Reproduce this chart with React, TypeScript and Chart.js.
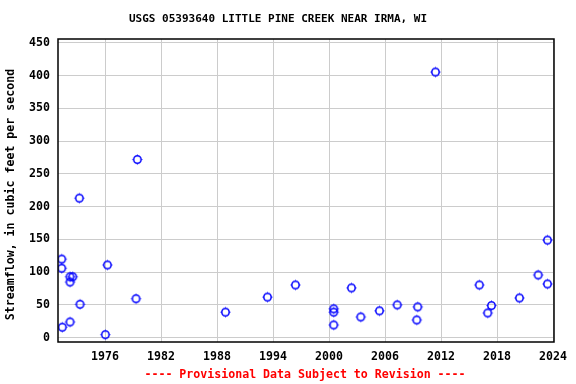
import React, { useEffect, useRef } from "react";
import { Chart, registerables } from "chart.js";

Chart.register(...registerables);

const years: number[] = [
  1971.36, 1971.36, 1971.42, 1972.25, 1972.54, 1972.25, 1972.25, 1973.25, 1973.32,
  1976.03, 1976.25, 1979.46, 1979.32, 1988.9, 1993.4, 1996.4, 2000.5, 2000.5, 2000.5,
  2002.4, 2003.4, 2005.4, 2007.3, 2009.5, 2009.4, 2011.4, 2016.1, 2017.0, 2017.4,
  2020.4, 2022.4, 2023.4, 2023.4,
];
const flows: number[] = [
  120, 106, 16, 93, 93, 85, 24, 213, 51,
  4.6, 111, 272, 59.5, 39, 62, 80.5, 44, 39, 19.4,
  76, 31.6, 41, 50, 47, 27, 405.6, 80.5, 37.7, 49,
  60.6, 95.7, 149, 82,
];
const xTicks: number[] = [1976, 1982, 1988, 1994, 2000, 2006, 2012, 2018, 2024];
const yTicks: number[] = [0, 50, 100, 150, 200, 250, 300, 350, 400, 450];

const titleText = "USGS 05393640 LITTLE PINE CREEK NEAR IRMA, WI";
const footerText = "---- Provisional Data Subject to Revision ----";
const yTitle = "Streamflow, in cubic feet per second";
const FONT = "'DejaVu Sans Mono', monospace";

function makeMarker(): HTMLCanvasElement {
  const c = document.createElement("canvas");
  c.width = 13;
  c.height = 13;
  const g = c.getContext("2d")!;
  g.strokeStyle = "#0000ff";
  g.lineWidth = 1.5;
  g.beginPath();
  g.arc(6.5, 6.5, 3.7, 0, Math.PI * 2);
  g.stroke();
  g.lineWidth = 1;
  g.beginPath();
  g.moveTo(6.5, 1.5); g.lineTo(6.5, 2.5);
  g.moveTo(6.5, 10.5); g.lineTo(6.5, 11.5);
  g.moveTo(1.5, 6.5); g.lineTo(2.5, 6.5);
  g.moveTo(10.5, 6.5); g.lineTo(11.5, 6.5);
  g.stroke();
  return c;
}

const decor = {
  id: "decor",
  afterDraw(chart: any) {
    const { ctx, chartArea } = chart;
    ctx.save();
    ctx.strokeStyle = "#000";
    ctx.lineWidth = 1.5;
    ctx.strokeRect(chartArea.left, chartArea.top, chartArea.right - chartArea.left, chartArea.bottom - chartArea.top);
    ctx.textAlign = "center";
    ctx.textBaseline = "middle";
    ctx.font = `bold 11px ${FONT}`;
    ctx.fillStyle = "#000";
    ctx.fillText(titleText, 278, 19);
    ctx.font = `bold 11.6px ${FONT}`;
    ctx.fillStyle = "#ff0000";
    ctx.fillText(footerText, 305, 375);
    ctx.fillStyle = "#000";
    ctx.translate(11, 194.5);
    ctx.rotate(-Math.PI / 2);
    ctx.fillText(yTitle, 0, 0);
    ctx.restore();
  },
};

export default function App() {
  const ref = useRef<HTMLCanvasElement>(null);
  useEffect(() => {
    const marker = makeMarker();
    const tickFont = { family: FONT, size: 11.6, weight: "bold" };
    const chart = new Chart(ref.current!, {
      type: "scatter",
      data: {
        datasets: [
          {
            data: years.map((x, i) => ({ x, y: flows[i] })),
            pointStyle: marker as any,
            pointRadius: 4,
            borderColor: "#0000ff",
            backgroundColor: "rgba(0,0,0,0)",
          },
        ],
      },
      options: {
        animation: false,
        responsive: false,
        events: [],
        layout: { padding: { top: 39, right: 22, left: 0, bottom: 0 } },
        plugins: { legend: { display: false }, tooltip: { enabled: false }, title: { display: false } },
        scales: {
          x: {
            type: "linear",
            min: 1970.96,
            max: 2024.1,
            afterBuildTicks: (s: any) => { s.ticks = xTicks.map((v) => ({ value: v })); },
            afterFit: (s: any) => { s.height = 42; },
            grid: { color: "#cccccc", lineWidth: 1, drawTicks: false },
            border: { display: false },
            ticks: {
              color: "#000",
              font: tickFont,
              padding: 8,
              maxRotation: 0,
              autoSkip: false,
              callback: (v: any) => String(v),
            },
          },
          y: {
            type: "linear",
            min: -6.6,
            max: 456,
            afterBuildTicks: (s: any) => { s.ticks = yTicks.map((v) => ({ value: v })); },
            afterFit: (s: any) => { s.width = 58; },
            grid: { color: "#cccccc", lineWidth: 1, drawTicks: false },
            border: { display: false },
            ticks: {
              color: "#000",
              font: tickFont,
              padding: 8,
              autoSkip: false,
              callback: (v: any) => String(v),
            },
          },
        },
      },
      plugins: [decor],
    } as any);
    return () => chart.destroy();
  }, []);
  return (
    <div style={{ position: "fixed", left: 0, top: 0, width: 576, height: 384, background: "#fff" }}>
      <canvas ref={ref} width={576} height={384} style={{ width: 576, height: 384, display: "block" }} />
    </div>
  );
}
